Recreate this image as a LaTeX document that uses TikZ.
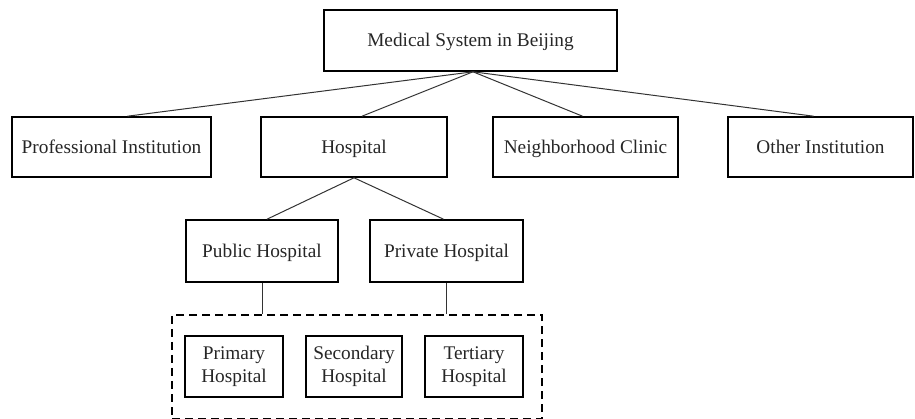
\documentclass[tikz,border=0pt]{standalone}
\usepackage{fontspec}
\setmainfont{Liberation Serif}
\usetikzlibrary{calc}
\begin{document}
\begin{tikzpicture}[x=1pt,y=-1pt,
  box/.style={draw, line width=1.6pt, rectangle, inner sep=0pt, align=center,
    font=\fontsize{19.3}{22.5}\selectfont, text=black!85},
  oneline/.style={box, text height=13pt, text depth=0pt},
  link/.style={line width=1pt, draw=black!80},
  grp/.style={draw, line width=1.8pt, dash pattern=on 8pt off 5pt}]
\useasboundingbox (0,0) rectangle (915,419);
\clip (0,0) rectangle (915,419);
\node[oneline, minimum width=293pt, minimum height=61pt] (top) at (470.5,40.5) {Medical System in Beijing};
\node[oneline, minimum width=199pt, minimum height=60pt] (prof) at (111.5,147) {Professional Institution};
\node[oneline, minimum width=186pt, minimum height=60pt] (hosp) at (354,147) {Hospital};
\node[oneline, minimum width=185pt, minimum height=60pt] (clinic) at (585.5,147) {Neighborhood Clinic};
\node[oneline, minimum width=185pt, minimum height=60pt] (other) at (820.5,147) {Other Institution};
\node[oneline, minimum width=152pt, minimum height=62pt] (pub) at (262,251) {Public Hospital};
\node[oneline, minimum width=153pt, minimum height=62pt] (priv) at (446.5,251) {Private Hospital};
\node[grp, rectangle, inner sep=0pt, minimum width=370pt, minimum height=104pt] (levels) at (357,367) {};
\node[box, minimum width=98pt, minimum height=61pt] (prim) at (234,366.5) {Primary\\Hospital};
\node[box, minimum width=96pt, minimum height=61pt] (sec) at (354,366.5) {Secondary\\Hospital};
\node[box, minimum width=98pt, minimum height=61pt] (ter) at (474,366.5) {Tertiary\\Hospital};
\coordinate (hub) at ($(top.south)+(2.5,0)$);
\draw[link] (hub) -- ([xshift=16pt]prof.north);
\draw[link] (hub) -- ([xshift=8pt]hosp.north);
\draw[link] (hub) -- ([xshift=-3pt]clinic.north);
\draw[link] (hub) -- ([xshift=-7pt]other.north);
\draw[link] (hosp.south) -- ([xshift=5pt]pub.north);
\draw[link] (hosp.south) -- ([xshift=-3pt]priv.north);
\draw[link] (pub.south) -- (pub.south |- levels.north);
\draw[link] (priv.south) -- (priv.south |- levels.north);
\end{tikzpicture}
\end{document}
